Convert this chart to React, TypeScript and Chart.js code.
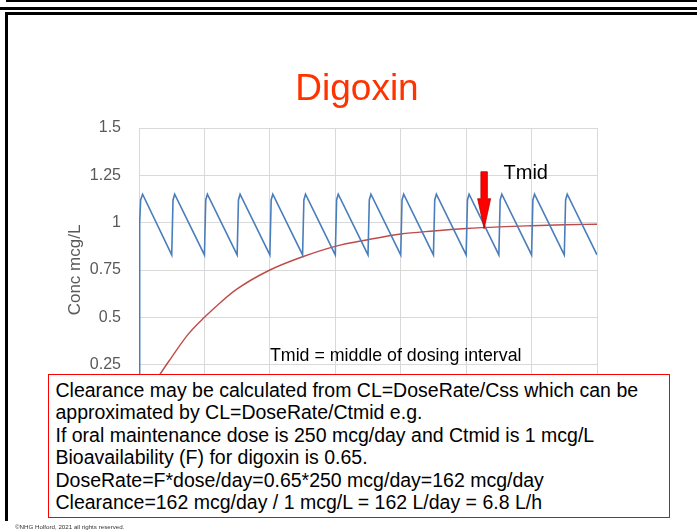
import React, { useEffect, useRef } from "react";
import { Chart, registerables } from "chart.js";

Chart.register(...registerables);

const chartTitle = "Digoxin";
const yAxisTitle = "Conc mcg/L";
const xTickValues = [0, 2, 4, 6, 8, 10, 12, 14];
const yTickValues = [0, 0.25, 0.5, 0.75, 1, 1.25, 1.5];
const yTickLabels = ["0", "0.25", "0.5", "0.75", "1", "1.25", "1.5"];

// Oral dosing profile (blue), time in days, conc in mcg/L
const oralTime = [
  0, 0.02, 0.05, 0.11,
  1, 1.04, 1.09,
  2, 2.04, 2.09,
  3, 3.04, 3.09,
  4, 4.04, 4.09,
  5, 5.04, 5.09,
  6, 6.04, 6.09,
  7, 7.04, 7.09,
  8, 8.04, 8.09,
  9, 9.04, 9.09,
  10, 10.04, 10.09,
  11, 11.04, 11.09,
  12, 12.04, 12.09,
  13, 13.04, 13.09,
  14, 14.04, 14.09,
];
const oralConc = [
  0, 1.0, 1.12, 1.15,
  0.83, 1.12, 1.15,
  0.83, 1.12, 1.15,
  0.83, 1.12, 1.15,
  0.83, 1.12, 1.15,
  0.83, 1.12, 1.15,
  0.83, 1.12, 1.15,
  0.83, 1.12, 1.15,
  0.83, 1.12, 1.15,
  0.83, 1.12, 1.15,
  0.83, 1.12, 1.15,
  0.83, 1.12, 1.15,
  0.83, 1.12, 1.15,
  0.83, 1.12, 1.15,
  0.83, 1.12, 1.15,
];

// Average concentration approach to steady state (red)
const avgTime = [0, 0.5, 1, 1.5, 2, 2.5, 3, 4, 5, 6, 7, 8, 9, 10, 11, 12, 13, 14];
const avgConc = [0, 0.16, 0.29, 0.41, 0.5, 0.58, 0.65, 0.75, 0.82, 0.875, 0.91, 0.94, 0.956, 0.969, 0.978, 0.984, 0.989, 0.992];

// Tmid marker
const tmidTime = 10.55;
const tmidConc = 0.968;
const tmidLabel = "Tmid";
const intervalNote = "Tmid = middle of dosing interval";

const boxLines = [
  "Clearance may be calculated from CL=DoseRate/Css which can be",
  "approximated by CL=DoseRate/Ctmid e.g.",
  "If oral maintenance dose is 250 mcg/day and Ctmid is 1 mcg/L",
  "Bioavailability (F) for digoxin is 0.65.",
  "DoseRate=F*dose/day=0.65*250 mcg/day=162 mcg/day",
  "Clearance=162 mcg/day / 1 mcg/L = 162 L/day = 6.8 L/h",
];
const footerText = "\u00A9NHG Holford, 2021  all rights reserved.";

const FONT = "'Liberation Sans', Arial, Helvetica, sans-serif";

const arrowPlugin = {
  id: "tmidArrow",
  afterDatasetsDraw(chart: any) {
    const { ctx, scales } = chart;
    const px = scales.x.getPixelForValue(tmidTime);
    const py = scales.y.getPixelForValue(tmidConc);
    const headH = 30;
    const headW = 13;
    const shaftW = 6.5;
    const total = 57;
    ctx.save();
    ctx.beginPath();
    ctx.moveTo(px, py);
    ctx.lineTo(px - headW / 2, py - headH);
    ctx.lineTo(px - shaftW / 2, py - headH);
    ctx.lineTo(px - shaftW / 2, py - total);
    ctx.lineTo(px + shaftW / 2, py - total);
    ctx.lineTo(px + shaftW / 2, py - headH);
    ctx.lineTo(px + headW / 2, py - headH);
    ctx.closePath();
    ctx.fillStyle = "#FF0000";
    ctx.fill();
    ctx.strokeStyle = "#B00000";
    ctx.lineWidth = 0.75;
    ctx.stroke();
    ctx.restore();
  },
};

export default function App() {
  const canvasRef = useRef<HTMLCanvasElement | null>(null);

  useEffect(() => {
    if (!canvasRef.current) return;
    const chart = new Chart(canvasRef.current, {
      type: "line",
      data: {
        datasets: [
          {
            label: "Oral",
            data: oralTime.map((t, i) => ({ x: t, y: oralConc[i] })),
            borderColor: "#4A7EBB",
            borderWidth: 1.6,
            pointRadius: 0,
            tension: 0,
            fill: false,
          },
          {
            label: "Average",
            data: avgTime.map((t, i) => ({ x: t, y: avgConc[i] })),
            borderColor: "#BE4B48",
            borderWidth: 1.4,
            pointRadius: 0,
            cubicInterpolationMode: "monotone",
            fill: false,
          },
        ],
      },
      options: {
        responsive: false,
        animation: false,
        devicePixelRatio: 1,
        layout: { padding: { left: 17, right: 0, top: 0, bottom: 0 } },
        plugins: {
          legend: { display: false },
          tooltip: { enabled: false },
          title: {
            display: true,
            text: chartTitle,
            color: "#FF3300",
            font: { family: FONT, size: 37, weight: "normal", lineHeight: 1.2 },
            padding: { top: 68, bottom: 15.6 },
          },
        },
        scales: {
          x: {
            type: "linear",
            min: 0,
            max: 14,
            afterBuildTicks: (s: any) => {
              s.ticks = xTickValues.map((v) => ({ value: v }));
            },
            afterFit: (s: any) => {
              s.height = 119;
            },
            grid: { color: "#D9D9D9", lineWidth: 1, drawTicks: false },
            border: { display: false },
            ticks: { color: "#595959", font: { family: FONT, size: 16 }, padding: 8 },
          },
          y: {
            type: "linear",
            position: "left",
            min: 0,
            max: 1.5,
            afterBuildTicks: (s: any) => {
              s.ticks = yTickValues.map((v) => ({ value: v }));
            },
            afterFit: (s: any) => {
              s.width = 122;
            },
            grid: { color: "#D9D9D9", lineWidth: 1, drawTicks: false },
            border: { color: "#D9D9D9" },
            ticks: {
              color: "#595959",
              font: { family: FONT, size: 16 },
              padding: 18,
              callback: (value: any) => {
                const i = yTickValues.findIndex((v) => Math.abs(v - Number(value)) < 1e-6);
                return i >= 0 ? yTickLabels[i] : "";
              },
            },
            title: {
              display: true,
              text: yAxisTitle,
              color: "#595959",
              font: { family: FONT, size: 17, lineHeight: 1.2 },
              padding: { top: 47.8, bottom: 0 },
            },
          },
          y2: {
            type: "linear",
            position: "right",
            display: true,
            afterFit: (s: any) => {
              s.width = 100;
            },
            grid: { display: false },
            border: { display: false },
            ticks: { display: false },
          },
        },
      },
      plugins: [arrowPlugin],
    } as any);
    return () => chart.destroy();
  }, []);

  return (
    <div
      style={{
        position: "fixed",
        left: 0,
        top: 0,
        width: 697,
        height: 531,
        background: "#FFFFFF",
        overflow: "hidden",
        fontFamily: FONT,
      }}
    >
      <div style={{ position: "absolute", left: 6, top: 0, width: 691, height: 1.5, background: "#000" }} />
      <div style={{ position: "absolute", left: 0, top: 7, width: 697, height: 3, background: "#000" }} />
      <div
        style={{
          position: "absolute",
          left: 5,
          top: 12,
          width: 720,
          height: 509,
          borderTop: "3px solid #000",
          borderLeft: "3px solid #000",
          boxSizing: "border-box",
        }}
      />
      <canvas
        ref={canvasRef}
        width={697}
        height={531}
        style={{ position: "absolute", left: 0, top: 0, width: 697, height: 531 }}
      />
      <div
        style={{
          position: "absolute",
          left: 503.5,
          top: 161.2,
          fontSize: 20,
          lineHeight: "22.34px",
          color: "#000",
          whiteSpace: "nowrap",
        }}
      >
        {tmidLabel}
      </div>
      <div
        style={{
          position: "absolute",
          left: 270,
          top: 345.6,
          fontSize: 17.8,
          lineHeight: "19.88px",
          color: "#000",
          whiteSpace: "nowrap",
        }}
      >
        {intervalNote}
      </div>
      <div
        style={{
          position: "absolute",
          left: 48,
          top: 374,
          width: 622,
          height: 144,
          border: "1.5px solid #FF0000",
          background: "#FFFFFF",
          boxSizing: "border-box",
          paddingLeft: 6.5,
          paddingTop: 3.5,
        }}
      >
        {boxLines.map((line, i) => (
          <div key={i} style={{ fontSize: 19.5, lineHeight: "22.6px", color: "#000", whiteSpace: "nowrap" }}>
            {line}
          </div>
        ))}
      </div>
      <div
        style={{
          position: "absolute",
          left: 15,
          top: 522.5,
          fontSize: 6.2,
          lineHeight: "8px",
          color: "#333",
          whiteSpace: "nowrap",
        }}
      >
        {footerText}
      </div>
    </div>
  );
}
